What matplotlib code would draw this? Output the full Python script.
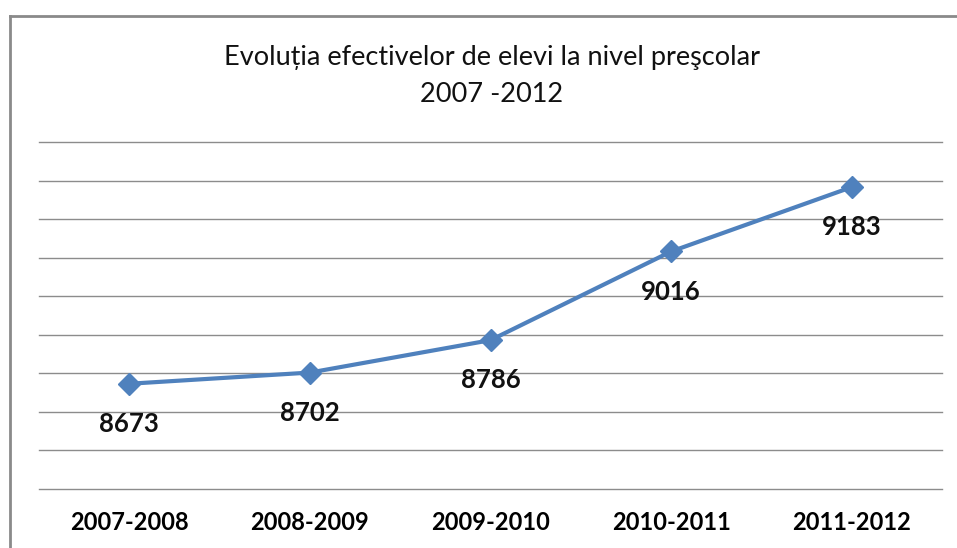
import matplotlib.pyplot as plt
from matplotlib.lines import Line2D

# Data
school_years = ["2007-2008", "2008-2009", "2009-2010", "2010-2011", "2011-2012"]
pupils = [8673, 8702, 8786, 9016, 9183]
grid_levels = list(range(8400, 9301, 100))

blue = "#4F81BD"
grid_grey = "#8C8C8C"

fig = plt.figure(figsize=(9.57, 5.48), dpi=100)
W, H = 957, 548

# plot area in pixel coords: left 39, right 942, top 142, bottom 489
ax = fig.add_axes([39 / W, 1 - 489 / H, (942 - 39) / W, (489 - 142) / H])
x = list(range(len(school_years)))
ax.plot(x, pupils, color=blue, lw=3, marker="D", markersize=11,
        markeredgecolor=blue, markerfacecolor=blue, zorder=3,
        solid_capstyle="round")
ax.set_xlim(-0.5, len(school_years) - 0.5)
ax.set_ylim(grid_levels[0], grid_levels[-1])

for lvl in grid_levels:
    ax.axhline(lvl, color=grid_grey, lw=1, zorder=1, clip_on=False)

for xi, v in zip(x, pupils):
    ax.annotate(str(v), (xi, v), xytext=(0, -29), textcoords="offset points",
                ha="center", va="center", fontsize=18.5, fontweight="bold",
                family="Lato", color="#111111")

ax.set_xticks(x)
ax.set_xticklabels(school_years, fontsize=17, fontweight="bold", family="Lato")
ax.tick_params(axis="x", length=0, pad=16)
ax.set_yticks([])
for s in ax.spines.values():
    s.set_visible(False)

title_kw = dict(ha="center", va="center", fontsize=19.5, family="Lato", color="#111111")
fig.text(492 / W, 1 - 57 / H, "Evoluția efectivelor de elevi la nivel preşcolar", **title_kw)
fig.text(492 / W, 1 - 95 / H, "2007 -2012", **title_kw)

# outer chart frame (top and left edges visible)
fig.add_artist(Line2D([10 / W, 1], [1 - 16 / H, 1 - 16 / H], color="#8A8A8A", lw=2,
                      transform=fig.transFigure))
fig.add_artist(Line2D([10 / W, 10 / W], [0, 1 - 16 / H], color="#8A8A8A", lw=2,
                      transform=fig.transFigure))

fig.savefig("out.png", dpi=100)
